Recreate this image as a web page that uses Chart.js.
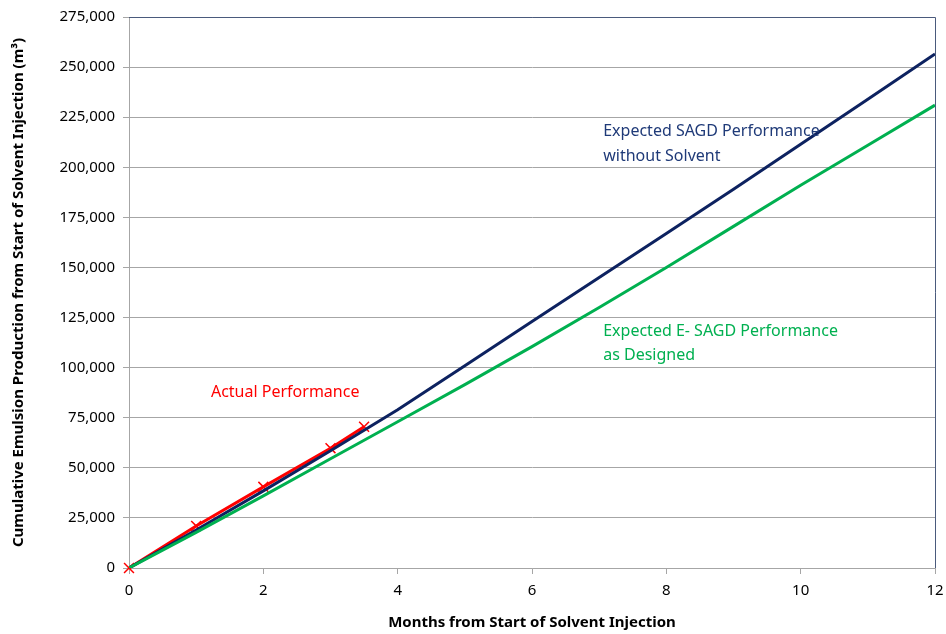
<!DOCTYPE html>
<html>
<head>
<meta charset="utf-8">
<script src="https://cdn.jsdelivr.net/npm/chart.js@4"></script>
<style>
  html, body { margin: 0; padding: 0; background: #fff; }
  #wrap { width: 946px; height: 634px; }
</style>
</head>
<body>
<div id="wrap"><canvas id="myChart"></canvas></div>
<script>
const months = [0, 1, 2, 3, 4, 5, 6, 7, 8, 9, 10, 11, 12];
const sagdNoSolvent = [0, 19000, 38500, 58500, 79000, 101000, 123000, 145000, 167000, 189000, 211500, 234000, 256500];
const esagdDesigned = [0, 17800, 36000, 54500, 73000, 91500, 110500, 130000, 150000, 170500, 191000, 211000, 231000];
const actualMonths = [0, 1, 2, 3, 3.5];
const actualValues = [0, 21000, 40500, 59800, 70500];

const xTicks = [0, 2, 4, 6, 8, 10, 12];
const yMax = 275000;
const yStep = 25000;

const labels = [
  { text: 'Actual Performance', x: 1.22, y: 87800, color: '#ff0000' },
  { text: 'Expected SAGD Performance', x: 7.06, y: 218100, color: '#1f3a78' },
  { text: 'without Solvent', x: 7.06, y: 205600, color: '#1f3a78' },
  { text: 'Expected E- SAGD Performance', x: 7.06, y: 118300, color: '#00b050' },
  { text: 'as Designed', x: 7.06, y: 106300, color: '#00b050' }
];

const toPts = (xs, ys) => xs.map((x, i) => ({ x: x, y: ys[i] }));

const fontFam = '"Noto Sans", "Open Sans", sans-serif';

const extras = {
  id: 'extras',
  afterDatasetsDraw(chart) {
    const { ctx, chartArea: a, scales } = chart;
    ctx.save();
    ctx.strokeStyle = '#4a5a7c';
    ctx.lineWidth = 1;
    ctx.beginPath();
    ctx.moveTo(a.left, a.top + 0.5);
    ctx.lineTo(a.right + 0.5, a.top + 0.5);
    ctx.lineTo(a.right + 0.5, a.bottom);
    ctx.stroke();
    ctx.font = '16px ' + fontFam;
    ctx.textAlign = 'left';
    ctx.textBaseline = 'middle';
    labels.forEach(l => {
      ctx.fillStyle = l.color;
      ctx.fillText(l.text, scales.x.getPixelForValue(l.x), scales.y.getPixelForValue(l.y));
    });
    ctx.restore();
  }
};

new Chart(document.getElementById('myChart'), {
  type: 'scatter',
  data: {
    datasets: [
      {
        type: 'line',
        label: 'Expected E- SAGD Performance as Designed',
        data: toPts(months, esagdDesigned),
        borderColor: '#00b050',
        borderWidth: 3,
        pointRadius: 0,
        fill: false
      }, {
        type: 'line',
        label: 'Expected SAGD Performance without Solvent',
        data: toPts(months, sagdNoSolvent),
        borderColor: '#0d2260',
        borderWidth: 3,
        pointRadius: 0,
        fill: false
      }, {
        type: 'line',
        label: 'Actual Performance',
        data: toPts(actualMonths, actualValues),
        borderColor: '#ff0000',
        borderWidth: 3,
        pointStyle: 'crossRot',
        pointRadius: 7,
        pointBorderWidth: 1.5,
        pointBorderColor: '#ff0000',
        clip: false,
        fill: false
      }]
  },
  options: {
    responsive: true,
    maintainAspectRatio: false,
    animation: false,
    layout: { padding: { top: 17, right: 11, left: 0, bottom: 0 } },
    plugins: {
      legend: { display: false },
      tooltip: { enabled: false }
    },
    scales: {
      x: {
        type: 'linear',
        min: 0,
        max: 12,
        afterBuildTicks: s => { s.ticks = xTicks.map(v => ({ value: v })); },
        afterFit: s => { s.height = 66; s.paddingRight = 0; s.paddingLeft = 0; },
        grid: { drawOnChartArea: false, color: '#a6a6a6', tickLength: 6 },
        border: { color: '#a6a6a6' },
        ticks: { color: '#000', font: { family: fontFam, size: 15 }, padding: 8 },
        title: {
          display: true,
          text: 'Months from Start of Solvent Injection',
          color: '#000',
          font: { family: fontFam, size: 15, weight: 'bold' },
          padding: { top: 2, bottom: 2 }
        }
      },
      y: {
        min: 0,
        max: yMax,
        afterFit: s => { s.width = 129; },
        grid: { color: '#a6a6a6', tickLength: 6 },
        border: { color: '#a6a6a6' },
        ticks: {
          stepSize: yStep,
          color: '#000',
          font: { family: fontFam, size: 15 },
          padding: 8,
          callback: v => v.toLocaleString('en-US')
        },
        title: {
          display: true,
          text: 'Cumulative Emulsion Production from Start of Solvent Injection (m³)',
          color: '#000',
          font: { family: fontFam, size: 15, weight: 'bold' },
          padding: { top: 10, bottom: 2 }
        }
      }
    }
  },
  plugins: [extras]
});
</script>
</body>
</html>
